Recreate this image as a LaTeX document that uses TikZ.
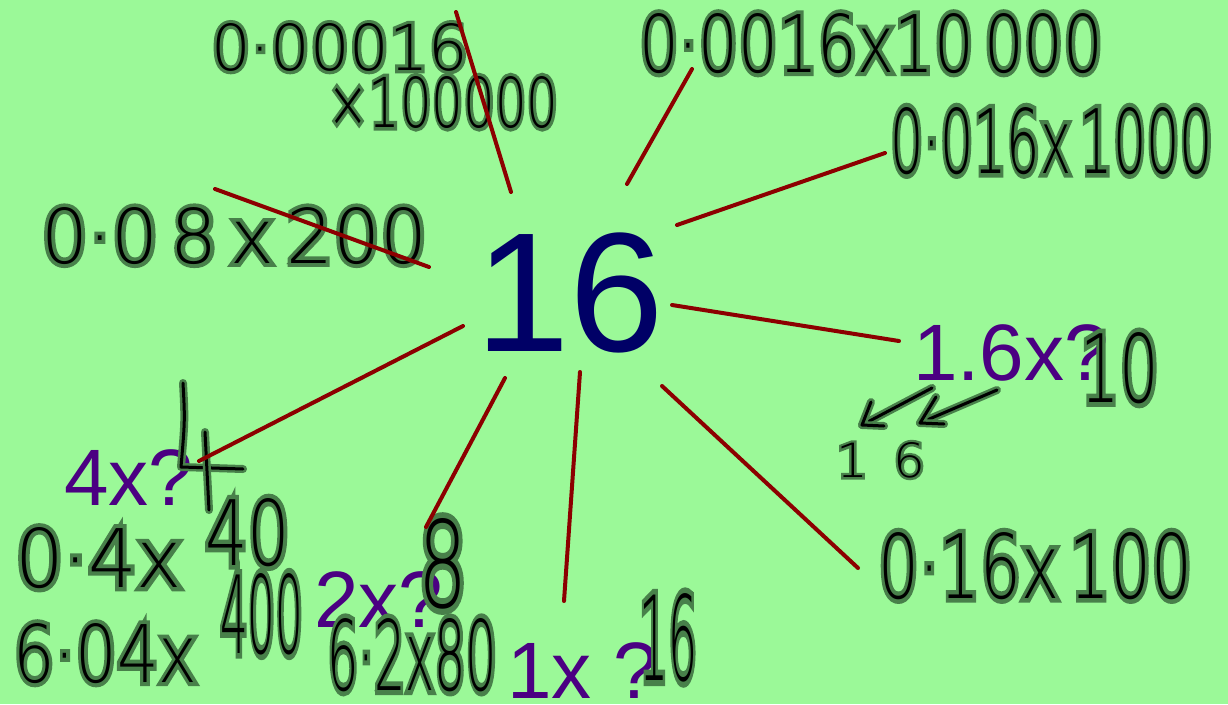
\documentclass[tikz,border=0pt]{standalone}
\usepackage{fontspec}
\usepackage{graphicx}
\setmainfont{Liberation Sans}
\newfontfamily\handfont{DejaVuSans-ExtraLight.ttf}
\newfontfamily\halofont{DejaVuSans-ExtraLight.ttf}[FakeBold=10]
\definecolor{bg}{RGB}{155,249,152}
\definecolor{halo}{RGB}{72,128,74}
\definecolor{navy}{RGB}{0,0,102}
\definecolor{purp}{RGB}{75,0,130}
\definecolor{spokered}{RGB}{140,0,0}
\newcommand{\hw}[3]{\makebox[0pt][l]{\textcolor{halo}{\resizebox{#1pt}{#2pt}{\halofont #3}}}\resizebox{#1pt}{#2pt}{\handfont #3}}
\tikzset{
  hand/.style={inner sep=0pt, anchor=north west, text=black},
  big/.style={inner sep=0pt, anchor=base west, text=purp, font=\fontsize{80}{82}\selectfont},
  spoke/.style={draw=spokered, line width=4pt, line cap=round},
  hstroke/.style={draw=black, line width=3pt, line cap=round, line join=round,
    preaction={draw=halo, line width=8pt, line cap=round, line join=round}}
}
\begin{document}
\begin{tikzpicture}[x=1pt,y=-1pt]
\fill[bg] (0,0) rectangle (1228,704);
\useasboundingbox (0,0) rectangle (1228,704);
% purple prompts
\node[big] (q4) at (64,505) {4x?};
\node[big] (q2) at (314,627) {2x?};
\node[big] (q1) at (507,698) {1x ?};
\node[big] (q16) at (913,380) {1.6x?};
% centre
\node[inner sep=0pt, anchor=base west, text=navy, font=\fontsize{170}{175}\selectfont] (c) at (475,351) {16};
% handwriting
\node[hand] (t1) at (211,23) {\hw{257}{47}{0·00016}};
\node[hand] (t2) at (327,76) {\hw{231}{51}{×100000}};
\node[hand] (t3) at (639,13) {\hw{464}{59}{0·0016x10\,000}};
\node[hand] (t4) at (890,107) {\hw{323}{66}{0·016x\,1000}};
\node[hand] (t5) at (41,207) {\hw{386}{56}{0·0\,8\,x\,200}};
\node[hand] (t6) at (15,527) {\hw{167}{60}{0·4x}};
\node[hand] (t7) at (205,498) {\hw{85}{67}{40}};
\node[hand] (t8) at (220,573) {\hw{83}{80}{400}};
\node[hand] (t9) at (13,623) {\hw{184}{59}{6·04x}};
\node[hand] (t10) at (418,518) {\hw{49}{89}{8}};
\node[hand] (t11) at (327,618) {\hw{170}{72}{6·2x80}};
\node[hand] (t12) at (639,593) {\hw{58}{87}{16}};
\node[hand] (t13) at (1080,332) {\hw{79}{70}{10}};
\node[hand] (t14) at (836,442) {\hw{89}{35}{1\,\,\,6}};
\node[hand] (t15) at (878,532) {\hw{314}{66}{0·16x\,100}};
% handwritten 4
\coordinate (f1) at (183,383);
\coordinate (f2) at (181,467);
\coordinate (f3) at (243,469);
\coordinate (f4) at (205,432);
\coordinate (f5) at (209,510);
\draw[hstroke] (f1) .. controls (185,420) .. (f2) -- (f3);
\draw[hstroke] (f4) -- (f5);
% arrows 1 6
\coordinate (a1) at (932,388);
\coordinate (a2) at (862,425);
\coordinate (a3) at (871,402);
\coordinate (a4) at (884,426);
\coordinate (b1) at (997,390);
\coordinate (b2) at (920,423);
\coordinate (b3) at (936,397);
\coordinate (b4) at (944,424);
\draw[hstroke] (a1) -- (a2);
\draw[hstroke] (a3) -- (a2) -- (a4);
\draw[hstroke] (b1) -- (b2);
\draw[hstroke] (b3) -- (b2) -- (b4);
% spokes
\coordinate (s1a) at (456,12);   \coordinate (s1b) at (511,192);
\coordinate (s2a) at (692,69);   \coordinate (s2b) at (627,184);
\coordinate (s3a) at (885,153);  \coordinate (s3b) at (677,225);
\coordinate (s4a) at (215,189);  \coordinate (s4b) at (429,267);
\coordinate (s5a) at (672,305);  \coordinate (s5b) at (899,341);
\coordinate (s6a) at (463,326);  \coordinate (s6b) at (199,461);
\coordinate (s7a) at (505,378);  \coordinate (s7b) at (426,527);
\coordinate (s8a) at (580,372);  \coordinate (s8b) at (564,601);
\coordinate (s9a) at (662,386);  \coordinate (s9b) at (858,568);
\foreach \i in {1,...,9}{\draw[spoke] (s\i a) -- (s\i b);}
\end{tikzpicture}
\end{document}
